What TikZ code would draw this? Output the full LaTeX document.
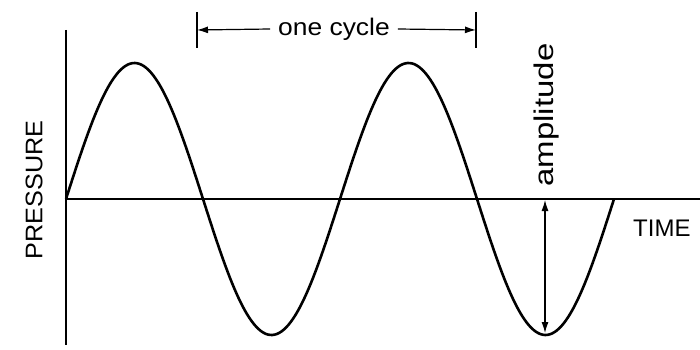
\documentclass[tikz,border=0pt]{standalone}
\usepackage{fontspec}
\setmainfont{Liberation Sans}
\usepackage{tikz}
\usetikzlibrary{positioning, arrows.meta, calc}

\tikzset{
  axisline/.style={line width=2.4pt, black},
  wave/.style={line width=2.6pt, black, line join=round},
  dimline/.style={line width=1.2pt, -{Latex[length=11pt,width=7pt]}},
  lbl/.style={font=\fontsize{24}{26}\selectfont, inner sep=0pt}
}

\begin{document}
\begin{tikzpicture}[x=1pt, y=-1pt]
    \useasboundingbox (0,0) rectangle (700,350);

    % axes
    \coordinate (ytop) at (66,30);
    \coordinate (ybot) at (66,345);
    \coordinate (orig) at (66,199);
    \coordinate (xend) at (700,199);
    \draw[axisline] (ytop) -- (ybot);
    \draw[line width=1.8pt] (orig) -- (xend);

    % the wave
    \draw[wave] plot[domain=66:614, samples=240, smooth]
      (\x, {199-136*sin((\x-66)*1.31387)});

    % labels
    \node[lbl, rotate=90, xscale=1.05] (pres) at (34,190) {PRESSURE};
    \node[lbl, anchor=west] (time) at (633,228) {TIME};
    \node[lbl, rotate=90, xscale=1.22, font=\fontsize{27}{29}\selectfont] (amp) at (547,115) {amplitude};
    \node[lbl, xscale=1.1] (cyc) at (334,29) {one cycle};

    % one cycle
    \coordinate (c1top) at (197,12);
    \coordinate (c1bot) at (197,48);
    \coordinate (c2top) at (476,12);
    \coordinate (c2bot) at (476,48);
    \draw[line width=1.6pt] (c1top) -- (c1bot);
    \draw[line width=1.6pt] (c2top) -- (c2bot);
    \coordinate (c1) at (197,30);
    \coordinate (c2) at (476,30);
    \draw[dimline] ($(cyc.west)+(-8,0)$) -- (c1);
    \draw[dimline] ($(cyc.east)+(8,0)$) -- (c2);

    % amplitude
    \coordinate (a1) at (545,200);
    \coordinate (a2) at (545,333);
    \draw[dimline, {Latex[length=11pt,width=7pt]}-{Latex[length=11pt,width=7pt]}] (a1) -- (a2);
\end{tikzpicture}
\end{document}
